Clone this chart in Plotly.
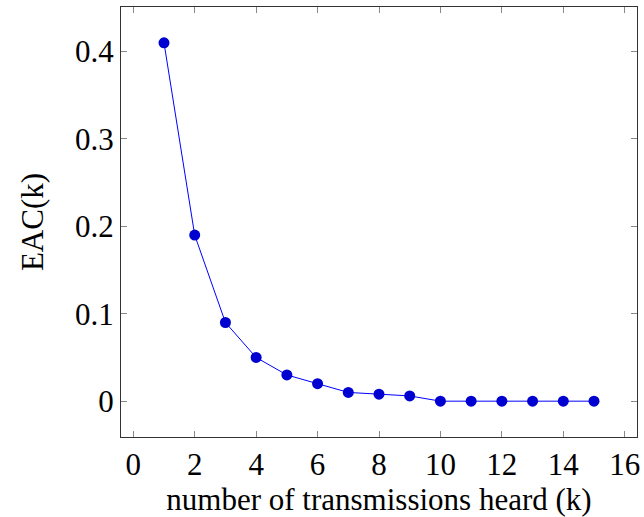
import plotly.graph_objects as go

k_values = [1, 2, 3, 4, 5, 6, 7, 8, 9, 10, 11, 12, 13, 14, 15]
eac_values = [0.41, 0.19, 0.09, 0.05, 0.03, 0.02, 0.01, 0.008, 0.006, 0.0, 0.0, 0.0, 0.0, 0.0, 0.0]
x_ticks = [0, 2, 4, 6, 8, 10, 12, 14, 16]
y_ticks = [0, 0.1, 0.2, 0.3, 0.4]
y_tick_labels = ["0", "0.1", "0.2", "0.3", "0.4"]

font_family = "Liberation Serif"
fs = 31

fig = go.Figure()
fig.add_trace(go.Scatter(
    x=k_values, y=eac_values, mode="lines+markers",
    line=dict(color="#0000ff", width=1),
    marker=dict(color="#0000d0", size=11, line=dict(width=0)),
    showlegend=False,
))

axis_common = dict(
    showgrid=False, zeroline=False,
    showline=True, linecolor="#333333", linewidth=1, mirror="allticks",
    ticks="inside", ticklen=6, tickcolor="#888888", tickwidth=1,
    tickfont=dict(family=font_family, size=fs, color="black"),
)

fig.update_layout(
    width=644, height=517,
    margin=dict(l=121, r=4, t=7, b=80),
    paper_bgcolor="white", plot_bgcolor="white",
    xaxis=dict(range=[-0.4, 16.4], tickvals=x_ticks,
               title=dict(text="number of transmissions heard (k)",
                          font=dict(family=font_family, size=fs, color="black"), standoff=0),
               **axis_common),
    yaxis=dict(range=[-0.041, 0.451], tickvals=y_ticks, ticktext=y_tick_labels,
               title=dict(text="EAC(k)",
                          font=dict(family=font_family, size=fs, color="black"), standoff=22),
               **axis_common),
)

fig.write_html("out.html")
